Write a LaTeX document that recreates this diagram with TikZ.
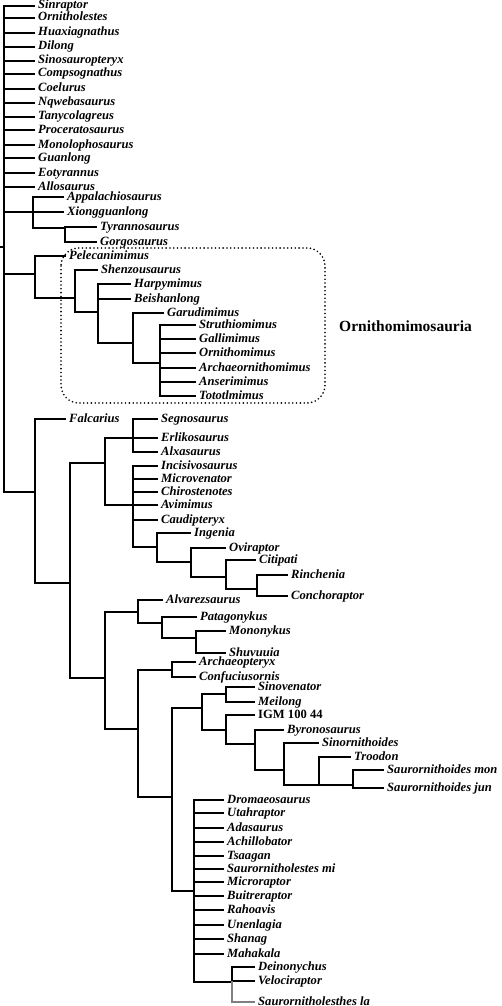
\documentclass[tikz,border=0pt]{standalone}
\usepackage{fontspec}
\setmainfont{Liberation Serif}
\begin{document}
\begin{tikzpicture}[x=1pt,y=-1pt,
  taxon/.style={anchor=west,inner xsep=4pt,inner ysep=0pt,text height=0.75em,text depth=0.15em,
    font=\fontsize{12.6}{14}\selectfont\bfseries\itshape},
  taxonup/.style={taxon,font=\fontsize{12.6}{14}\selectfont\bfseries},
  branch/.style={line width=1.3pt,line cap=rect},
  cladebox/.style={line width=1.8pt,dash pattern=on 0pt off 3.8pt,line cap=round,rounded corners=18pt}]
\useasboundingbox (0,0) rectangle (502,1006);
% ---------- internal nodes ----------
\coordinate (r) at (4,247);
\coordinate (rs) at (0,247);
\coordinate (t1) at (33,212);
\coordinate (t2) at (65,228);
\coordinate (o1) at (35,274);
\coordinate (o2) at (75,298);
\coordinate (o3) at (98,312);
\coordinate (o4) at (133,343);
\coordinate (o5) at (160,363);
\coordinate (m1) at (35,492);
\coordinate (m2) at (70,583);
\coordinate (m3) at (105,463);
\coordinate (m4) at (105,678);
\coordinate (th1) at (133,438);
\coordinate (ov1) at (133,505);
\coordinate (ov2) at (157,547);
\coordinate (ov3) at (191,562);
\coordinate (ov4) at (226,577);
\coordinate (ov5) at (257,589);
\coordinate (al1) at (138,612);
\coordinate (al2) at (162,623);
\coordinate (al3) at (196,638);
\coordinate (pa1) at (138,729);
\coordinate (av1) at (172,670);
\coordinate (de1) at (172,797);
\coordinate (tr1) at (202,708);
\coordinate (tr2) at (226,694);
\coordinate (tr3) at (226,730);
\coordinate (tr4) at (255,744);
\coordinate (tr5) at (284,770);
\coordinate (tr6) at (319,785);
\coordinate (tr7) at (353,785);
\coordinate (dr1) at (194,891);
\coordinate (dr2) at (232,982);
% ---------- leaves ----------
\node[taxon] (sinraptor) at (34,6) {Sinraptor};
\node[taxon] (ornitholestes) at (34,18) {Ornitholestes};
\node[taxon] (huaxiagnathus) at (34,33) {Huaxiagnathus};
\node[taxon] (dilong) at (34,47) {Dilong};
\node[taxon] (sinosauropteryx) at (34,61) {Sinosauropteryx};
\node[taxon] (compsognathus) at (34,74) {Compsognathus};
\node[taxon] (coelurus) at (34,89) {Coelurus};
\node[taxon] (nqwebasaurus) at (34,103) {Nqwebasaurus};
\node[taxon] (tanycolagreus) at (34,117) {Tanycolagreus};
\node[taxon] (proceratosaurus) at (34,130) {Proceratosaurus};
\node[taxon] (monolophosaurus) at (34,145) {Monolophosaurus};
\node[taxon] (guanlong) at (34,158) {Guanlong};
\node[taxon] (eotyrannus) at (34,173) {Eotyrannus};
\node[taxon] (allosaurus) at (34,187) {Allosaurus};
\node[taxon] (appalachiosaurus) at (63,197) {Appalachiosaurus};
\node[taxon] (xiongguanlong) at (63,212) {Xiongguanlong};
\node[taxon] (tyrannosaurus) at (96,227) {Tyrannosaurus};
\node[taxon] (gorgosaurus) at (96,242) {Gorgosaurus};
\node[taxon] (pelecanimimus) at (65,256) {Pelecanimimus};
\node[taxon] (shenzousaurus) at (97,270) {Shenzousaurus};
\node[taxon] (harpymimus) at (130,284) {Harpymimus};
\node[taxon] (beishanlong) at (130,299) {Beishanlong};
\node[taxon] (garudimimus) at (163,313) {Garudimimus};
\node[taxon] (struthiomimus) at (195,325) {Struthiomimus};
\node[taxon] (gallimimus) at (195,339) {Gallimimus};
\node[taxon] (ornithomimus) at (195,353) {Ornithomimus};
\node[taxon] (archaeornithomimus) at (195,368) {Archaeornithomimus};
\node[taxon] (anserimimus) at (195,382) {Anserimimus};
\node[taxon] (tototlmimus) at (195,396) {Tototlmimus};
\node[taxon] (falcarius) at (65,419) {Falcarius};
\node[taxon] (segnosaurus) at (157,419) {Segnosaurus};
\node[taxon] (erlikosaurus) at (157,438) {Erlikosaurus};
\node[taxon] (alxasaurus) at (157,452) {Alxasaurus};
\node[taxon] (incisivosaurus) at (157,466) {Incisivosaurus};
\node[taxon] (microvenator) at (157,479) {Microvenator};
\node[taxon] (chirostenotes) at (157,492) {Chirostenotes};
\node[taxon] (avimimus) at (157,505) {Avimimus};
\node[taxon] (caudipteryx) at (157,520) {Caudipteryx};
\node[taxon] (ingenia) at (190,533) {Ingenia};
\node[taxon] (oviraptor) at (225,548) {Oviraptor};
\node[taxon] (citipati) at (255,560) {Citipati};
\node[taxon] (rinchenia) at (287,575) {Rinchenia};
\node[taxon] (conchoraptor) at (287,596) {Conchoraptor};
\node[taxon] (alvarezsaurus) at (162,600) {Alvarezsaurus};
\node[taxon] (patagonykus) at (196,617) {Patagonykus};
\node[taxon] (mononykus) at (225,631) {Mononykus};
\node[taxon] (shuvuuia) at (225,653) {Shuvuuia};
\node[taxon] (archaeopteryx) at (195,662) {Archaeopteryx};
\node[taxon] (confuciusornis) at (195,677) {Confuciusornis};
\node[taxon] (sinovenator) at (254,687) {Sinovenator};
\node[taxon] (meilong) at (254,702) {Meilong};
\node[taxonup] (igm) at (254,715) {IGM 100 44};
\node[taxon] (byronosaurus) at (283,730) {Byronosaurus};
\node[taxon] (sinornithoides) at (318,743) {Sinornithoides};
\node[taxon] (troodon) at (350,757) {Troodon};
\node[taxon] (saurmon) at (383,770) {Saurornithoides mon};
\node[taxon] (saurjun) at (383,788) {Saurornithoides jun};
\node[taxon] (dromaeosaurus) at (223,800) {Dromaeosaurus};
\node[taxon] (utahraptor) at (223,813) {Utahraptor};
\node[taxon] (adasaurus) at (223,828) {Adasaurus};
\node[taxon] (achillobator) at (223,842) {Achillobator};
\node[taxon] (tsaagan) at (223,856) {Tsaagan};
\node[taxon] (saurmi) at (223,869) {Saurornitholestes mi};
\node[taxon] (microraptor) at (223,882) {Microraptor};
\node[taxon] (buitreraptor) at (223,896) {Buitreraptor};
\node[taxon] (rahoavis) at (223,910) {Rahoavis};
\node[taxon] (unenlagia) at (223,925) {Unenlagia};
\node[taxon] (shanag) at (223,939) {Shanag};
\node[taxon] (mahakala) at (223,954) {Mahakala};
\node[taxon] (deinonychus) at (254,967) {Deinonychus};
\node[taxon] (velociraptor) at (254,981) {Velociraptor};
\node[taxon] (saurla) at (254,1002) {Saurornitholesthes la};
% ---------- clade label and box ----------
\draw[cladebox] (61,248) rectangle (325,403);
\node[font=\fontsize{15.5}{18}\selectfont\bfseries,anchor=west,inner sep=0pt] (ornlabel) at (339,326) {Ornithomimosauria};
% ---------- branches ----------
\draw[branch] (rs) -- (r);
\foreach \c in {sinraptor,ornitholestes,huaxiagnathus,dilong,sinosauropteryx,compsognathus,coelurus,nqwebasaurus,tanycolagreus,proceratosaurus,monolophosaurus,guanlong,eotyrannus,allosaurus}
  \draw[branch] (r) |- (\c.west);
\draw[branch] (r) |- (t1);
\draw[branch] (r) |- (o1);
\draw[branch] (r) |- (m1);
\draw[branch] (t1) |- (appalachiosaurus.west);
\draw[branch] (t1) |- (xiongguanlong.west);
\draw[branch] (t1) |- (t2);
\draw[branch] (t2) |- (tyrannosaurus.west);
\draw[branch] (t2) |- (gorgosaurus.west);
\draw[branch] (o1) |- (pelecanimimus.west);
\draw[branch] (o1) |- (o2);
\draw[branch] (o2) |- (shenzousaurus.west);
\draw[branch] (o2) |- (o3);
\draw[branch] (o3) |- (harpymimus.west);
\draw[branch] (o3) |- (beishanlong.west);
\draw[branch] (o3) |- (o4);
\draw[branch] (o4) |- (garudimimus.west);
\draw[branch] (o4) |- (o5);
\foreach \c in {struthiomimus,gallimimus,ornithomimus,archaeornithomimus,anserimimus,tototlmimus}
  \draw[branch] (o5) |- (\c.west);
\draw[branch] (m1) |- (falcarius.west);
\draw[branch] (m1) |- (m2);
\draw[branch] (m2) |- (m3);
\draw[branch] (m2) |- (m4);
\draw[branch] (m3) |- (th1);
\draw[branch] (m3) |- (ov1);
\foreach \c in {segnosaurus,erlikosaurus,alxasaurus}
  \draw[branch] (th1) |- (\c.west);
\foreach \c in {incisivosaurus,microvenator,chirostenotes,avimimus,caudipteryx}
  \draw[branch] (ov1) |- (\c.west);
\draw[branch] (ov1) |- (ov2);
\draw[branch] (ov2) |- (ingenia.west);
\draw[branch] (ov2) |- (ov3);
\draw[branch] (ov3) |- (oviraptor.west);
\draw[branch] (ov3) |- (ov4);
\draw[branch] (ov4) |- (citipati.west);
\draw[branch] (ov4) |- (ov5);
\draw[branch] (ov5) |- (rinchenia.west);
\draw[branch] (ov5) |- (conchoraptor.west);
\draw[branch] (m4) |- (al1);
\draw[branch] (m4) |- (pa1);
\draw[branch] (al1) |- (alvarezsaurus.west);
\draw[branch] (al1) |- (al2);
\draw[branch] (al2) |- (patagonykus.west);
\draw[branch] (al2) |- (al3);
\draw[branch] (al3) |- (mononykus.west);
\draw[branch] (al3) |- (shuvuuia.west);
\draw[branch] (pa1) |- (av1);
\draw[branch] (pa1) |- (de1);
\draw[branch] (av1) |- (archaeopteryx.west);
\draw[branch] (av1) |- (confuciusornis.west);
\draw[branch] (de1) |- (tr1);
\draw[branch] (de1) |- (dr1);
\draw[branch] (tr1) |- (tr2);
\draw[branch] (tr1) |- (tr3);
\draw[branch] (tr2) |- (sinovenator.west);
\draw[branch] (tr2) |- (meilong.west);
\draw[branch] (tr3) |- (igm.west);
\draw[branch] (tr3) |- (tr4);
\draw[branch] (tr4) |- (byronosaurus.west);
\draw[branch] (tr4) |- (tr5);
\draw[branch] (tr5) |- (sinornithoides.west);
\draw[branch] (tr5) |- (tr6);
\draw[branch] (tr6) |- (troodon.west);
\draw[branch] (tr6) |- (tr7);
\draw[branch] (tr7) |- (saurmon.west);
\draw[branch] (tr7) |- (saurjun.west);
\foreach \c in {dromaeosaurus,utahraptor,adasaurus,achillobator,tsaagan,saurmi,microraptor,buitreraptor,rahoavis,unenlagia,shanag,mahakala}
  \draw[branch] (dr1) |- (\c.west);
\draw[branch] (dr1) |- (dr2);
\draw[branch] (dr2) |- (deinonychus.west);
\draw[branch] (dr2) |- (velociraptor.west);
\draw[branch,gray] (dr2) |- (saurla.west);
\end{tikzpicture}
\end{document}
